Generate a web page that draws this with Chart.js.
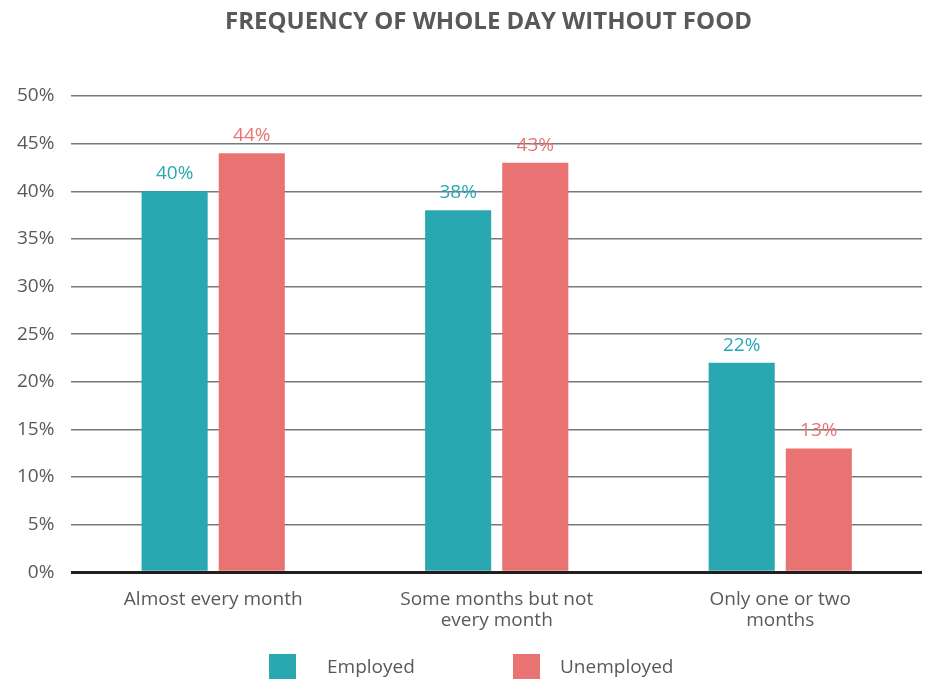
<!DOCTYPE html>
<html>
<head>
<meta charset="utf-8">
<script src="https://cdn.jsdelivr.net/npm/chart.js@4.4.1/dist/chart.umd.min.js"></script>
<style>
    html, body { margin: 0; padding: 0; background: #fff; }
    #wrap { position: relative; width: 927px; height: 679px; font-family: "Open Sans", sans-serif; color: #58595b; }
    #title { position: absolute; left: 50px; right: 0; top: 3px; text-align: center; font-weight: 700; font-size: 24px; }
    #legend { position: absolute; top: 654px; left: 0; width: 927px; height: 25px; }
    .swatch { position: absolute; top: 0; width: 27px; height: 25px; }
    .lbl { position: absolute; top: 0; font-size: 19px; line-height: 25px; }
</style>
</head>
<body>
<div id="wrap">
    <div id="title">FREQUENCY OF WHOLE DAY WITHOUT FOOD</div>
    <canvas id="chart" width="927" height="679"></canvas>
    <div id="legend"></div>
</div>
<script>
// Categories and series
const categories = [
    'Almost every month',
    ['Some months but not', 'every month'],
    ['Only one or two', 'months']
];
const seriesNames = ['Employed', 'Unemployed'];
const employed = [40, 38, 22];
const unemployed = [44, 43, 13];
const yTicks = [0, 5, 10, 15, 20, 25, 30, 35, 40, 45, 50];

const colors = ['#29a8b1', '#e87372'];
const textGray = '#58595b';

// Writes the percentage above each bar
const valueLabels = {
    id: 'valueLabels',
    afterDatasetsDraw(chart) {
        const ctx = chart.ctx;
        ctx.save();
        ctx.font = '19px "Open Sans", sans-serif';
        ctx.textAlign = 'center';
        ctx.textBaseline = 'bottom';
        chart.data.datasets.forEach((ds, i) => {
            const meta = chart.getDatasetMeta(i);
            ctx.fillStyle = colors[i];
            meta.data.forEach((bar, j) => {
                ctx.fillText(ds.data[j] + '%', bar.x, bar.y - 8);
            });
        });
        ctx.restore();
    }
};

function buildLegend() {
    const legend = document.getElementById('legend');
    const spots = [[269, 327], [513, 560]];
    seriesNames.forEach((name, i) => {
        const sw = document.createElement('div');
        sw.className = 'swatch';
        sw.style.left = spots[i][0] + 'px';
        sw.style.background = colors[i];
        legend.appendChild(sw);
        const t = document.createElement('div');
        t.className = 'lbl';
        t.style.left = spots[i][1] + 'px';
        t.textContent = name;
        legend.appendChild(t);
    });
}

document.addEventListener('DOMContentLoaded', function() {
    buildLegend();

    const ctx = document.getElementById('chart').getContext('2d');
    new Chart(ctx, {
        type: 'bar',
        data: {
            labels: categories,
            datasets: [
                { label: seriesNames[0], data: employed, backgroundColor: colors[0] },
                { label: seriesNames[1], data: unemployed, backgroundColor: colors[1] }
            ]
        },
        options: {
            responsive: false,
            animation: false,
            categoryPercentage: 0.544,
            barPercentage: 0.857,
            layout: { padding: { top: 96, right: 5, bottom: 39, left: 0 } },
            plugins: {
                legend: { display: false },
                title: { display: false },
                tooltip: { enabled: false }
            },
            scales: {
                x: {
                    grid: { display: false },
                    border: { display: false },
                    ticks: {
                        color: textGray,
                        font: { family: '"Open Sans", sans-serif', size: 19, lineHeight: 1.15 },
                        padding: 8,
                        maxRotation: 0
                    }
                },
                y: {
                    min: 0,
                    max: 50,
                    afterBuildTicks: function(axis) {
                        axis.ticks = yTicks.map(v => ({ value: v }));
                    },
                    border: { display: false },
                    grid: {
                        drawTicks: false,
                        color: c => c.tick.value === 0 ? '#231f20' : '#77787b',
                        lineWidth: c => c.tick.value === 0 ? 3 : 1.5
                    },
                    ticks: {
                        color: textGray,
                        font: { family: '"Open Sans", sans-serif', size: 19 },
                        padding: 17,
                        callback: v => v + '%'
                    }
                }
            }
        },
        plugins: [valueLabels]
    });
});
</script>
</body>
</html>
